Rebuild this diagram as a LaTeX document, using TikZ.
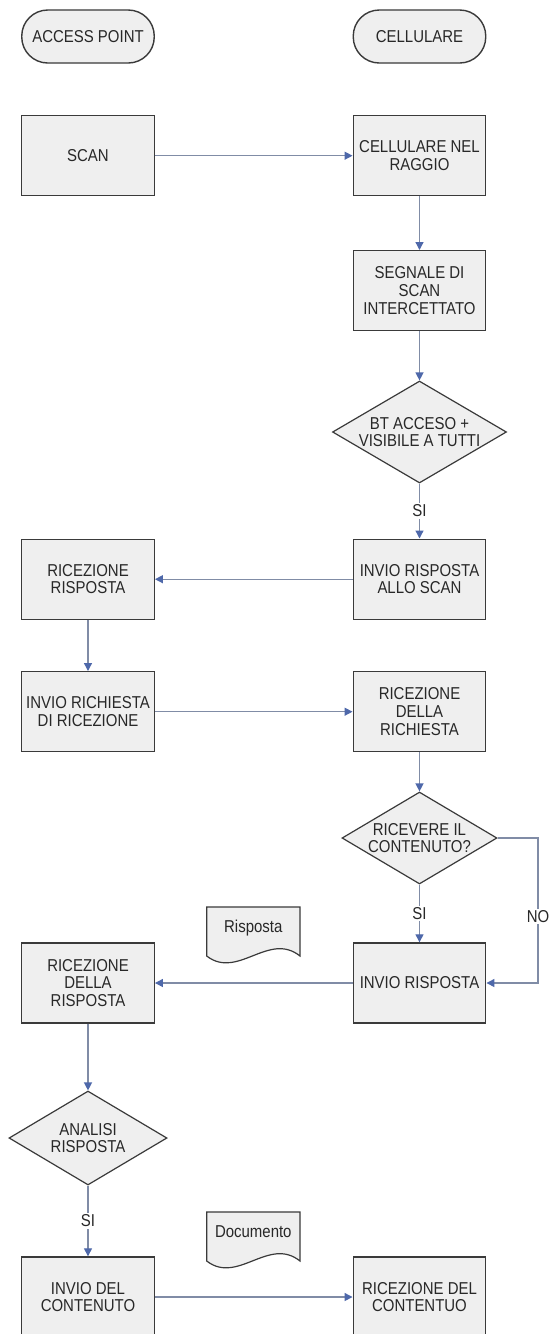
\documentclass[tikz,border=0pt]{standalone}
\usepackage{fontspec}
\setmainfont[FakeStretch=0.87]{Liberation Sans}
\usetikzlibrary{shapes.geometric,arrows.meta}

\definecolor{boxfill}{RGB}{239,239,239}
\definecolor{boxline}{RGB}{58,58,58}
\definecolor{linkgray}{RGB}{128,140,166}
\definecolor{tipblue}{RGB}{78,104,170}
\definecolor{txt}{RGB}{40,40,40}

\begin{document}
\begin{tikzpicture}[x=1pt,y=-1pt,
  every node/.style={font=\fontsize{17.2}{17.7}\selectfont, text=txt},
  stepbox/.style={draw=boxline, fill=boxfill, line width=1.4pt,
    minimum width=132.5pt, minimum height=80pt, inner sep=0pt, align=center},
  terminal/.style={stepbox, minimum height=53pt, rounded corners=26pt},
  decision/.style={diamond, draw=boxline, fill=boxfill, line width=1.2pt,
    inner sep=0pt},
  doc/.style={draw=boxline, fill=boxfill, line width=1.2pt},
  link/.style={draw=linkgray, line width=1.3pt,
    -{Triangle[length=8pt,width=8pt,color=tipblue]}},
  answer/.style={fill=white, inner sep=1.5pt}
]
\clip (0,0) rectangle (550,1334);
\fill[white] (0,0) rectangle (550,1334);

% column headers
\node[terminal] (ap)   at (88,36.5)    {ACCESS POINT};
\node[terminal] (cell) at (419.5,36.5) {CELLULARE};

% steps
\node[stepbox] (scan)     at (88,155.7)    {SCAN};
\node[stepbox] (raggio)   at (419.5,155.7) {CELLULARE NEL\\RAGGIO};
\node[stepbox] (segnale)  at (419.5,290.7) {SEGNALE DI\\SCAN\\INTERCETTATO};
\node[decision, minimum width=174pt, minimum height=102pt,
  label={[align=center]center:BT ACCESO +\\VISIBILE A TUTTI}] (bt) at (419.5,432) {};
\node[stepbox] (invioscan) at (419.5,579.2) {INVIO RISPOSTA\\ALLO SCAN};
\node[stepbox] (ricrisp1)  at (88,579.2)    {RICEZIONE\\RISPOSTA};
\node[stepbox] (richiesta) at (88,711.7)    {INVIO RICHIESTA\\DI RICEZIONE};
\node[stepbox] (ricrich)   at (419.5,711.7) {RICEZIONE\\DELLA\\RICHIESTA};
\node[decision, minimum width=155pt, minimum height=92pt,
  label={[align=center]center:RICEVERE IL\\CONTENUTO?}] (ricevere) at (419.5,838) {};
\node[stepbox] (inviorisp) at (419.5,983) {INVIO RISPOSTA};
\node[stepbox] (ricrisp2)  at (88,983)    {RICEZIONE\\DELLA\\RISPOSTA};
\node[decision, minimum width=158pt, minimum height=94pt,
  label={[align=center]center:ANALISI\\RISPOSTA}] (analisi) at (88,1138) {};
\node[stepbox] (inviocont) at (88,1297)    {INVIO DEL\\CONTENUTO};
\node[stepbox] (riccont)   at (419.5,1297) {RICEZIONE DEL\\CONTENTUO};

% document symbols
\draw[doc] (206.7,956) -- (206.7,907) -- (300,907) -- (300,956)
  .. controls (268.7,931) and (237.7,980) .. (206.7,956) -- cycle;
\node (risposta) at (253.3,928) {Risposta};
\draw[doc] (206.7,1261) -- (206.7,1212) -- (300,1212) -- (300,1261)
  .. controls (268.7,1236) and (237.7,1285) .. (206.7,1261) -- cycle;
\node (documento) at (253.3,1232) {Documento};

% connectors
\draw[link] (scan.east) -- (raggio.west);
\draw[link] (raggio.south) -- (segnale.north);
\draw[link] (segnale.south) -- (bt.north);
\draw[link] (bt.south) -- node[answer] {SI} (invioscan.north);
\draw[link] (invioscan.west) -- (ricrisp1.east);
\draw[link] (ricrisp1.south) -- (richiesta.north);
\draw[link] (richiesta.east) -- (ricrich.west);
\draw[link] (ricrich.south) -- (ricevere.north);
\draw[link] (ricevere.south) -- node[answer] {SI} (inviorisp.north);
\coordinate (nocorner) at (538,838);
\draw[link] (ricevere.east) -- (nocorner) |- node[answer, pos=0.27] {NO} (inviorisp.east);
\draw[link] (inviorisp.west) -- (ricrisp2.east);
\draw[link] (ricrisp2.south) -- (analisi.north);
\draw[link] (analisi.south) -- node[answer] {SI} (inviocont.north);
\draw[link] (inviocont.east) -- (riccont.west);
\end{tikzpicture}
\end{document}
